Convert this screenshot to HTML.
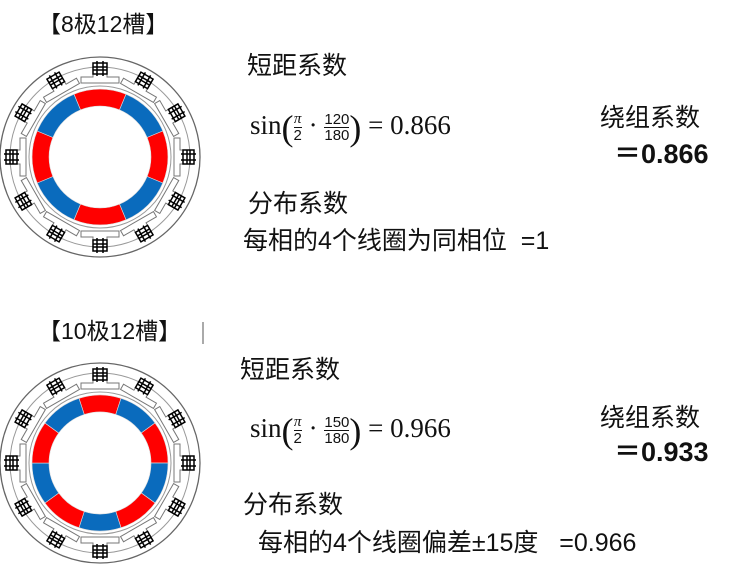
<!DOCTYPE html>
<html><head><meta charset="utf-8"><style>
body{margin:0;width:734px;height:573px;background:#fff;position:relative;overflow:hidden;font-family:"Liberation Sans","Noto Sans CJK SC",sans-serif;color:#111}
.t{position:absolute;white-space:nowrap;font-size:25px;line-height:30px}
.b{font-weight:bold;font-size:27px}
.f{position:absolute;white-space:nowrap;font-family:"Liberation Serif","DejaVu Serif",serif;font-size:27px;line-height:34px}
.fr{display:inline-block;vertical-align:middle;text-align:center;font-size:15px;line-height:15px;font-family:"Liberation Sans",sans-serif}
.fr span{display:block}
.fr span.n{border-bottom:1px solid #111}
.p{font-size:36px;vertical-align:middle;font-weight:100}
</style></head><body>
<svg width="734" height="573" style="position:absolute;left:0;top:0">
<defs>
<g id="tooth">
<path d="M-7 -90 L-7 -80 L-19 -80 L-19 -74 L19 -74 L19 -80 L7 -80 L7 -90" fill="#fff" stroke="#777" stroke-width="1"/>
<rect x="-7" y="-94" width="14" height="11" fill="none" stroke="#000" stroke-width="1.5"/>
<line x1="-7" y1="-90" x2="7" y2="-90" stroke="#000" stroke-width="1.5"/>
<line x1="-7" y1="-87" x2="7" y2="-87" stroke="#000" stroke-width="1.5"/>
<line x1="-3" y1="-96" x2="-3" y2="-81" stroke="#000" stroke-width="1.5"/>
<line x1="3" y1="-96" x2="3" y2="-81" stroke="#000" stroke-width="1.5"/>
</g>
<path id="s8" d="M-26.0 -62.8 A68 68 0 0 1 26.0 -62.8 L19.5 -47.1 A51 51 0 0 0 -19.5 -47.1 Z" stroke="#ddd" stroke-width="0.6"/>
<path id="s10" d="M-21.0 -64.7 A68 68 0 0 1 21.0 -64.7 L15.8 -48.5 A51 51 0 0 0 -15.8 -48.5 Z" stroke="#ddd" stroke-width="0.6"/>
</defs>
<g transform="translate(100,157)">
<circle r="100" fill="none" stroke="#666" stroke-width="1.3"/>
<circle r="90" fill="none" stroke="#999" stroke-width="1"/>
<use href="#tooth"/><use href="#tooth" transform="rotate(30)"/><use href="#tooth" transform="rotate(60)"/><use href="#tooth" transform="rotate(90)"/><use href="#tooth" transform="rotate(120)"/><use href="#tooth" transform="rotate(150)"/><use href="#tooth" transform="rotate(180)"/><use href="#tooth" transform="rotate(210)"/><use href="#tooth" transform="rotate(240)"/><use href="#tooth" transform="rotate(270)"/><use href="#tooth" transform="rotate(300)"/><use href="#tooth" transform="rotate(330)"/>
<circle r="71" fill="none" stroke="#999" stroke-width="1"/>
<use href="#s8" fill="#f00"/><use href="#s8" fill="#0a6bbd" transform="rotate(45)"/><use href="#s8" fill="#f00" transform="rotate(90)"/><use href="#s8" fill="#0a6bbd" transform="rotate(135)"/><use href="#s8" fill="#f00" transform="rotate(180)"/><use href="#s8" fill="#0a6bbd" transform="rotate(225)"/><use href="#s8" fill="#f00" transform="rotate(270)"/><use href="#s8" fill="#0a6bbd" transform="rotate(315)"/>
</g>
<g transform="translate(100,463)">
<circle r="100" fill="none" stroke="#666" stroke-width="1.3"/>
<circle r="90" fill="none" stroke="#999" stroke-width="1"/>
<use href="#tooth"/><use href="#tooth" transform="rotate(30)"/><use href="#tooth" transform="rotate(60)"/><use href="#tooth" transform="rotate(90)"/><use href="#tooth" transform="rotate(120)"/><use href="#tooth" transform="rotate(150)"/><use href="#tooth" transform="rotate(180)"/><use href="#tooth" transform="rotate(210)"/><use href="#tooth" transform="rotate(240)"/><use href="#tooth" transform="rotate(270)"/><use href="#tooth" transform="rotate(300)"/><use href="#tooth" transform="rotate(330)"/>
<circle r="71" fill="none" stroke="#999" stroke-width="1"/>
<use href="#s10" fill="#f00"/><use href="#s10" fill="#0a6bbd" transform="rotate(36)"/><use href="#s10" fill="#f00" transform="rotate(72)"/><use href="#s10" fill="#0a6bbd" transform="rotate(108)"/><use href="#s10" fill="#f00" transform="rotate(144)"/><use href="#s10" fill="#0a6bbd" transform="rotate(180)"/><use href="#s10" fill="#f00" transform="rotate(216)"/><use href="#s10" fill="#0a6bbd" transform="rotate(252)"/><use href="#s10" fill="#f00" transform="rotate(288)"/><use href="#s10" fill="#0a6bbd" transform="rotate(324)"/>
</g>
<line x1="203" y1="322" x2="203" y2="344" stroke="#555" stroke-width="1"/>
</svg>

<div class="t" style="left:38px;top:9px;font-size:23px">【8极12槽】</div>
<div class="t" style="left:247px;top:51px">短距系数</div>
<div class="f" style="left:250px;top:108px">sin<span class="p">(</span><span class="fr"><span class="n" style="font-family:'Liberation Serif',serif;font-style:italic">π</span><span>2</span></span> · <span class="fr"><span class="n">120</span><span>180</span></span><span class="p">)</span> = 0.866</div>
<div class="t" style="left:600px;top:103px">绕组系数</div>
<div class="t b" style="left:614px;top:139px">＝0.866</div>
<div class="t" style="left:248px;top:189px">分布系数</div>
<div class="t" style="left:243px;top:226px">每相的4个线圈为同相位 &nbsp;=1</div>

<div class="t" style="left:38px;top:316px;font-size:23px">【10极12槽】</div>
<div class="t" style="left:240px;top:355px">短距系数</div>
<div class="f" style="left:250px;top:411px">sin<span class="p">(</span><span class="fr"><span class="n" style="font-family:'Liberation Serif',serif;font-style:italic">π</span><span>2</span></span> · <span class="fr"><span class="n">150</span><span>180</span></span><span class="p">)</span> = 0.966</div>
<div class="t" style="left:600px;top:403px">绕组系数</div>
<div class="t b" style="left:614px;top:437px">＝0.933</div>
<div class="t" style="left:243px;top:490px">分布系数</div>
<div class="t" style="left:258px;top:528px">每相的4个线圈偏差±15度 &nbsp;&nbsp;=0.966</div>
</body></html>
